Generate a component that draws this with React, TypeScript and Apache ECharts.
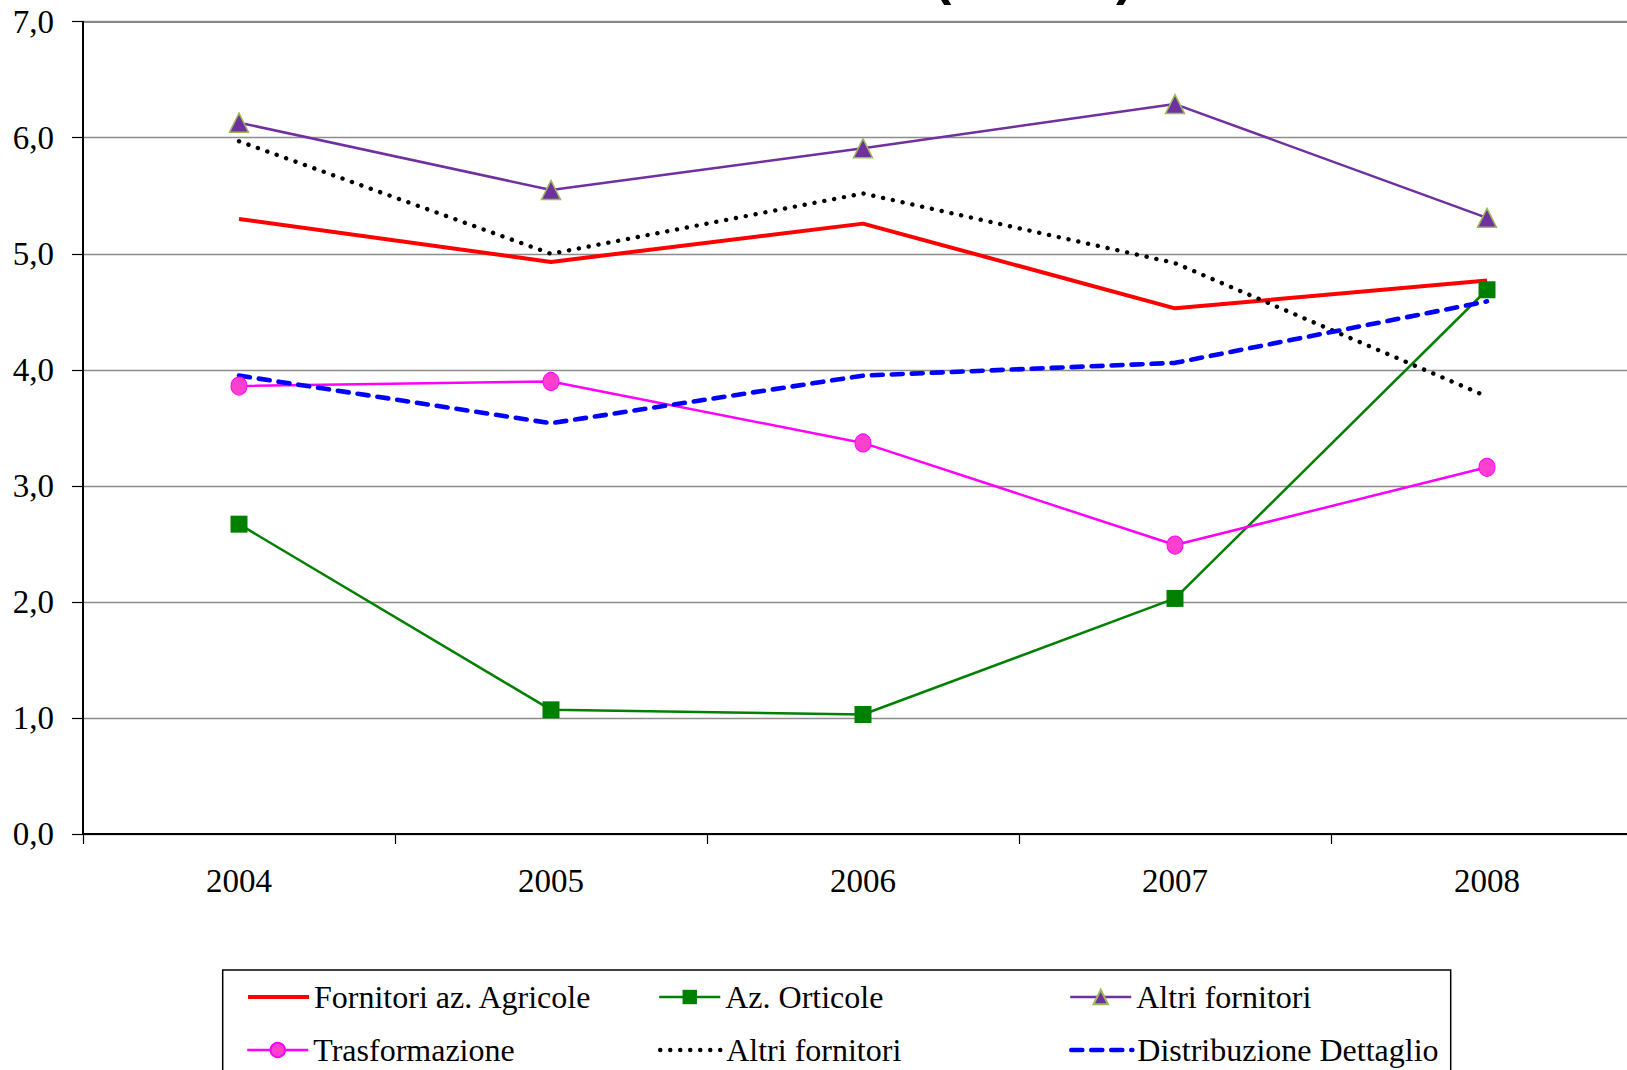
import React, { useEffect, useRef } from "react";
import * as echarts from "echarts";

const years = ["2004", "2005", "2006", "2007", "2008"];
const fornitoriAgricole = [5.3, 4.93, 5.26, 4.53, 4.77];
const aziendeOrticole = [2.67, 1.07, 1.03, 2.03, 4.69];
const altriFornitoriA = [6.13, 5.55, 5.91, 6.29, 5.31];
const trasformazione = [3.86, 3.9, 3.37, 2.49, 3.16];
const altriFornitoriB = [5.97, 5.0, 5.52, 4.92, 3.77];
const distribuzioneDettaglio = [3.95, 3.54, 3.95, 4.06, 4.59];

const seriesKeys = ["s1", "s2", "s3", "s4", "s5", "s6"];
const seriesLabels = [
  "Fornitori az. Agricole",
  "Az. Orticole",
  "Altri fornitori",
  "Trasformazione",
  "Altri fornitori",
  "Distribuzione Dettaglio",
];

const SERIF = "'Liberation Serif', 'Times New Roman', serif";

export default function App() {
  const ref = useRef<HTMLDivElement>(null);
  useEffect(() => {
    if (!ref.current) return;
    const chart = echarts.init(ref.current, undefined, { renderer: "svg" });
    const values = [
      fornitoriAgricole,
      aziendeOrticole,
      altriFornitoriA,
      trasformazione,
      altriFornitoriB,
      distribuzioneDettaglio,
    ];
    const styles: any[] = [
      { color: "#FF0000", lineStyle: { width: 4, color: "#FF0000", type: "solid", cap: "butt" }, symbol: "none" },
      {
        color: "#008000",
        lineStyle: { width: 2.5, color: "#008000", type: "solid", cap: "butt" },
        symbol: "rect",
        symbolSize: 17,
        itemStyle: { color: "#008000" },
      },
      {
        color: "#7030A0",
        lineStyle: { width: 2.5, color: "#7030A0", type: "solid", cap: "butt" },
        symbol: "triangle",
        symbolSize: 19,
        itemStyle: { color: "#7030A0", borderColor: "#9BBB59", borderWidth: 1.5 },
      },
      {
        color: "#FF00FF",
        lineStyle: { width: 2.5, color: "#FF00FF", type: "solid", cap: "butt" },
        symbol: "circle",
        symbolSize: [16, 18],
        itemStyle: { color: "#FF3FD0", borderColor: "#FF00FF", borderWidth: 1 },
      },
      {
        color: "#000000",
        lineStyle: { width: 4.4, color: "#000000", type: [0.1, 9.9], cap: "round" },
        symbol: "none",
      },
      {
        color: "#0000FF",
        lineStyle: { width: 4.6, color: "#0000FF", type: [11, 9], cap: "round" },
        symbol: "none",
      },
    ];
    const series = values.map((v, i) => ({
      type: "line",
      name: seriesKeys[i],
      data: v,
      showSymbol: styles[i].symbol !== "none",
      ...styles[i],
    }));

    const colLefts = [246, 658, 1069];
    const rowCenters = [997, 1050];
    const legends = seriesKeys.map((k, i) => {
      const noMarker = styles[i].symbol === "none";
      const ls = styles[i].lineStyle;
      const lg: any = {
        show: true,
        data: [k],
        left: colLefts[i % 3],
        top: rowCenters[Math.floor(i / 3)] - 16,
        orient: "horizontal",
        padding: 0,
        itemWidth: 61,
        itemHeight: 18,
        itemGap: 0,
        selectedMode: false,
        formatter: () => seriesLabels[i],
        textStyle: { fontFamily: SERIF, fontSize: 32, color: "#000" },
        lineStyle: { width: ls.width, type: ls.type, cap: ls.cap, color: ls.color },
      };
      if (noMarker) {
        lg.itemStyle = { color: "rgba(0,0,0,0)", borderWidth: 0, borderColor: "rgba(0,0,0,0)" };
      }
      return lg;
    });

    chart.setOption({
      animation: false,
      backgroundColor: "#ffffff",
      grid: {
        left: 83,
        top: 21.7,
        width: 1560,
        height: 812.3,
        show: true,
        borderColor: "#000",
        borderWidth: 1.5,
        containLabel: false,
      },
      legend: legends,
      xAxis: {
        type: "category",
        data: years,
        boundaryGap: true,
        axisLine: { show: true, lineStyle: { color: "#000", width: 2 } },
        axisTick: { show: true, length: 10, alignWithLabel: false, lineStyle: { color: "#000", width: 1.2 } },
        axisLabel: { color: "#000", fontFamily: SERIF, fontSize: 33, margin: 30 },
        splitLine: { show: false },
      },
      yAxis: {
        type: "value",
        min: 0,
        max: 7,
        interval: 1,
        axisLine: { show: true, lineStyle: { color: "#000", width: 2 } },
        axisTick: { show: true, length: 11, lineStyle: { color: "#000", width: 1.2 } },
        axisLabel: {
          color: "#000",
          fontFamily: SERIF,
          fontSize: 33,
          margin: 29,
          formatter: (v: number) => v.toFixed(1).replace(".", ","),
        },
        splitLine: { show: true, lineStyle: { color: "#8C8C8C", width: 1.3 } },
      },
      graphic: [
        {
          type: "rect",
          z: -1,
          shape: { x: 222.7, y: 970, width: 1228, height: 140 },
          style: { fill: "#fff", stroke: "#000", lineWidth: 1.5 },
        },
        {
          type: "text",
          x: 934,
          y: -24,
          style: {
            text: "(",
            font: "bold 52px 'Liberation Sans', Arial, sans-serif",
            fill: "#000",
            verticalAlign: "middle",
            align: "left",
          },
        },
        {
          type: "text",
          x: 1116,
          y: -24,
          style: {
            text: ")",
            font: "bold 52px 'Liberation Sans', Arial, sans-serif",
            fill: "#000",
            verticalAlign: "middle",
            align: "left",
          },
        },
      ],
      series,
    });
    return () => chart.dispose();
  }, []);
  return (
    <div style={{ position: "absolute", left: 0, top: 0, width: 1627, height: 1070, overflow: "hidden" }}>
      <div ref={ref} style={{ position: "absolute", left: 0, top: 0, width: 1700, height: 1070 }} />
    </div>
  );
}
